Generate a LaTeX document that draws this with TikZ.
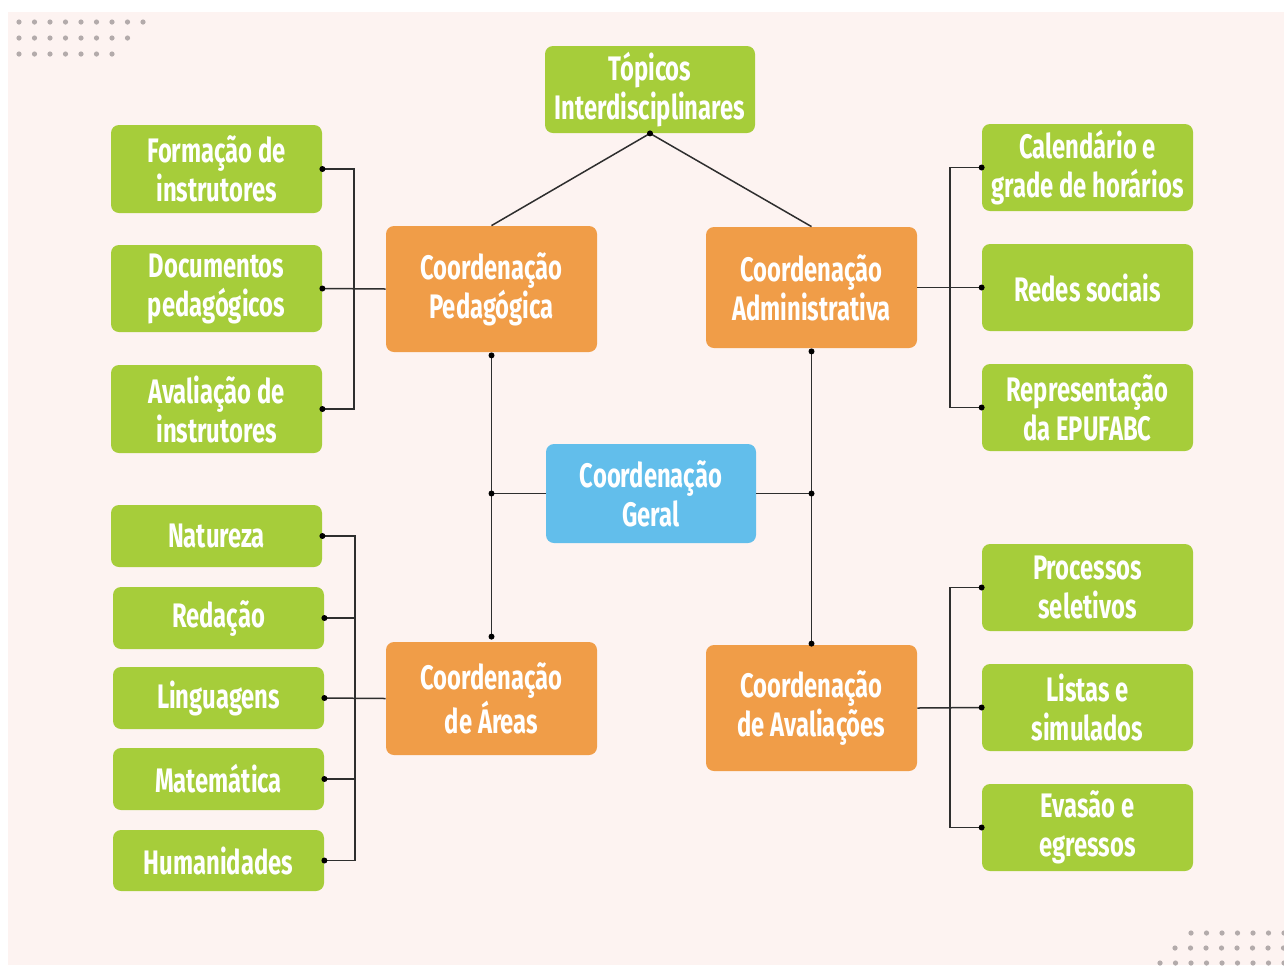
\documentclass[tikz,border=0pt]{standalone}
\usepackage{fontspec}
\setmainfont{Fira Sans}[FakeStretch=0.70]
\definecolor{bgpink}{HTML}{FDF3F1}
\definecolor{leafgreen}{HTML}{A6CD3A}
\definecolor{boxorange}{HTML}{F09D48}
\definecolor{boxblue}{HTML}{62BEEB}
\definecolor{dotgray}{HTML}{B3ABAB}
\definecolor{linegray}{HTML}{2E2E2E}
\tikzset{
  cbox/.style={rounded corners=4pt, inner sep=0pt, align=center, text=white,
    font=\bfseries\fontsize{17}{19.5}\selectfont, minimum width=105.5pt},
  gbox/.style={cbox, fill=leafgreen},
  obox/.style={cbox, fill=boxorange},
  bbox/.style={cbox, fill=boxblue},
  conn/.style={draw=linegray, line width=0.75pt},
  pt/.style={circle, fill=black, inner sep=0pt, minimum size=3pt},
  deco/.style={circle, fill=dotgray, inner sep=0pt, minimum size=2.6pt}
}
\begin{document}
\begin{tikzpicture}[x=0.5pt, y=-0.5pt]
\useasboundingbox (0,0) rectangle (1284,965);
\fill[white] (0,0) rectangle (1284,965);
\fill[bgpink] (8,12) rectangle (1284,965);
% decorative dots
\foreach \i in {0,...,8} \node[deco] at ({19+15.5*\i},22) {};
\foreach \i in {0,...,7} \node[deco] at ({19+15.5*\i},38) {};
\foreach \i in {0,...,6} \node[deco] at ({19+15.5*\i},54) {};
\begin{scope}
\clip (0,0) rectangle (1284,965);
\foreach \i in {0,...,6} \node[deco] at ({1191+15.5*\i},933) {};
\foreach \i in {0,...,7} \node[deco] at ({1175+15.5*\i},948) {};
\foreach \i in {0,...,8} \node[deco] at ({1160+15.5*\i},963) {};
\end{scope}
% nodes
\node[gbox, minimum width=105pt, minimum height=43.5pt] (top) at (650,89.5) {Tópicos\\Interdisciplinares};
\node[gbox, minimum height=44pt] (form) at (216.5,169) {Formação de\\instrutores};
\node[gbox, minimum height=43.5pt] (docs) at (216.5,288.5) {Documentos\\pedagógicos};
\node[gbox, minimum height=44pt] (aval) at (216.5,409) {Avaliação de\\instrutores};
\node[obox, minimum height=63pt] (ped) at (491.5,289) {Coordenação\\Pedagógica};
\node[obox, minimum height=60.5pt] (adm) at (811.5,287.5) {Coordenação\\Administrativa};
\node[gbox, minimum height=43.5pt] (cal) at (1087.5,167.5) {Calendário e\\grade de horários};
\node[gbox, minimum height=43.5pt] (redes) at (1087.5,287.5) {Redes sociais};
\node[gbox, minimum height=43.5pt] (rep) at (1087.5,407.5) {Representação\\da EPUFABC};
\node[bbox, minimum width=105pt, minimum height=49.5pt] (geral) at (651,493.5) {Coordenação\\Geral};
\node[gbox, minimum height=31pt] (nat) at (216.5,536) {Natureza};
\node[gbox, minimum height=31pt] (red) at (218.5,618) {Redação};
\node[gbox, minimum height=31pt] (ling) at (218.5,698) {Linguagens};
\node[gbox, minimum height=31pt] (mat) at (218.5,779) {Matemática};
\node[gbox, minimum height=30.5pt] (hum) at (218.5,860.5) {Humanidades};
\node[obox, minimum height=56.5pt] (areas) at (491.5,698.5) {Coordenação\\de Áreas};
\node[obox, minimum height=63pt] (avals) at (811.5,708) {Coordenação\\de Avaliações};
\node[gbox, minimum height=43.5pt] (proc) at (1087.5,587.5) {Processos\\seletivos};
\node[gbox, minimum height=43.5pt] (listas) at (1087.5,707.5) {Listas e\\simulados};
\node[gbox, minimum height=43.5pt] (evas) at (1087.5,827.5) {Evasão e\\egressos};
% helper coordinates
\coordinate (lb1) at (354,288);
\coordinate (rb1) at (950,287.5);
\coordinate (lb2) at (355,698);
\coordinate (rb2) at (950,707.5);
% top
\draw[conn] (top.south) -- (ped.north);
\draw[conn] (top.south) -- (adm.north);
\node[pt] at (top.south) {};
% pedagógica bracket
\draw[conn] (form.east) -| (lb1) |- (aval.east);
\draw[conn] (docs.east) -- (ped.west);
\foreach \n in {form,docs,aval} \node[pt] at (\n.east) {};
% administrativa bracket
\draw[conn] (cal.west) -| (rb1) |- (rep.west);
\draw[conn] (adm.east) -- (redes.west);
\foreach \n in {cal,redes,rep} \node[pt] at (\n.west) {};
% center
\draw[conn] ([yshift=-1.5pt]ped.south) -- ([yshift=2.5pt]areas.north);
\draw[conn] ([yshift=-1.5pt]adm.south) -- ([yshift=0.5pt]avals.north);
\draw[conn] (geral.west) -- (geral.west -| ped.south) coordinate (gl);
\draw[conn] (geral.east) -- (geral.east -| adm.south) coordinate (gr);
\node[pt] at ([yshift=-1.5pt]ped.south) {};
\node[pt] at ([yshift=2.5pt]areas.north) {};
\node[pt] at ([yshift=-1.5pt]adm.south) {};
\node[pt] at ([yshift=0.5pt]avals.north) {};
\node[pt] at (gl) {};
\node[pt] at (gr) {};
% áreas bracket
\draw[conn] (nat.east) -| (lb2) |- (hum.east);
\draw[conn] (red.east) -- (red.east -| lb2);
\draw[conn] (mat.east) -- (mat.east -| lb2);
\draw[conn] (ling.east) -- (areas.west);
\foreach \n in {nat,red,ling,mat,hum} \node[pt] at (\n.east) {};
% avaliações bracket
\draw[conn] (proc.west) -| (rb2) |- (evas.west);
\draw[conn] (avals.east) -- (listas.west);
\foreach \n in {proc,listas,evas} \node[pt] at (\n.west) {};
\end{tikzpicture}
\end{document}
